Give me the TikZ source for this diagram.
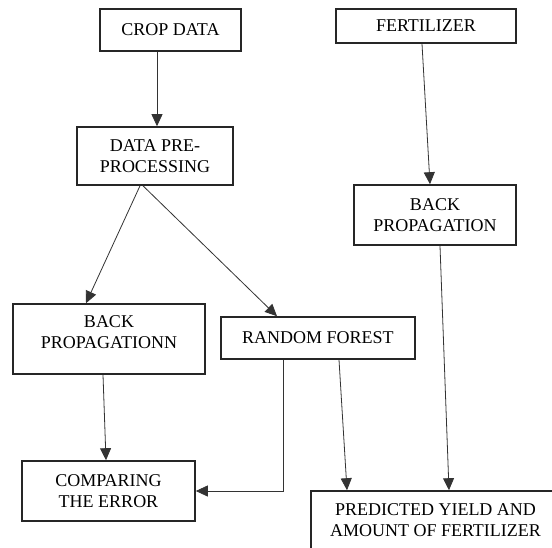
\documentclass[tikz,border=0pt]{standalone}
\usepackage{fontspec}
\setmainfont{Liberation Serif}
\usetikzlibrary{arrows.meta}
\begin{document}
\begin{tikzpicture}[x=1pt,y=-1pt,
  box/.style={draw=black!85, line width=1.6pt, rectangle, align=center, inner sep=0pt,
    font=\fontsize{18}{21}\selectfont, text=black},
  arr/.style={draw=black!80, line width=0.8pt, -{Triangle[length=12pt,width=11pt]}}]
\clip (0,0) rectangle (552,547);
\fill[white] (0,0) rectangle (552,547);
\node[box, minimum width=141, minimum height=42] (crop) at (170.5,30) {CROP DATA};
\node[box, minimum width=180, minimum height=34] (fert) at (426,26) {FERTILIZER};
\node[box, minimum width=156, minimum height=58] (pre) at (155,156) {DATA PRE-\\PROCESSING};
\node[box, minimum width=162, minimum height=60] (bpr) at (435,215) {BACK\\PROPAGATION};
\node[box, minimum width=192, minimum height=70] (bpl) at (109,339) {BACK\\PROPAGATIONN\\[-8pt]};
\node[box, minimum width=194, minimum height=42] (rf) at (318,338) {RANDOM FOREST};
\node[box, minimum width=173, minimum height=60] (cmp) at (108.5,491) {COMPARING\\THE ERROR};
\node[box, minimum width=249, minimum height=68] (pred) at (435.5,525) {PREDICTED YIELD AND\\AMOUNT OF FERTILIZER\\[-12pt]};
\draw[arr] ([xshift=-13.5]crop.south) -- ([xshift=2]pre.north);
\draw[arr] ([xshift=-15]pre.south) -- ([xshift=-23]bpl.north);
\draw[arr] ([xshift=-12]pre.south) -- ([xshift=-41]rf.north);
\draw[arr] ([xshift=-4]fert.south) -- ([xshift=-5]bpr.north);
\draw[arr] ([xshift=-6]bpl.south) -- ([xshift=-2.5]cmp.north);
\draw[arr] ([xshift=-35]rf.south) |- (cmp.east);
\draw[arr] ([xshift=21]rf.south) -- ([xshift=-88.5]pred.north);
\draw[arr] ([xshift=5]bpr.south) -- ([xshift=13.5]pred.north);
\end{tikzpicture}
\end{document}
